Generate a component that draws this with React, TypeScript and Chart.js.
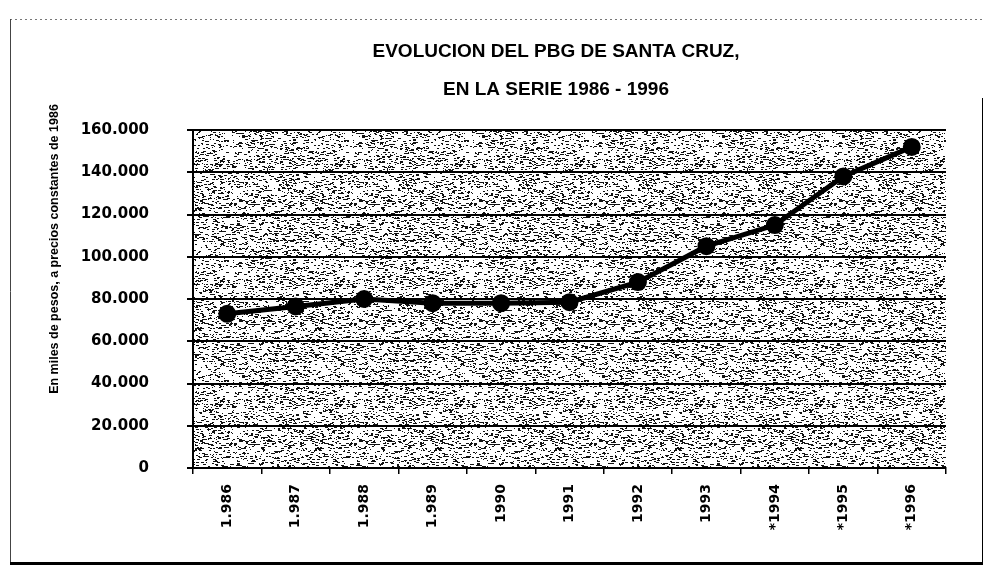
import React, { useEffect, useRef } from 'react';
import { Chart, registerables } from 'chart.js';

Chart.register(...registerables);

const years = ['1.986', '1.987', '1.988', '1.989', '1990', '1991', '1992', '1993', '*1994', '*1995', '*1996'];
const pbg = [73000, 76500, 80000, 78000, 78000, 78500, 88000, 105000, 115000, 138000, 152000];
const titleLines = ['EVOLUCION DEL PBG DE SANTA CRUZ,', 'EN LA SERIE 1986 - 1996'];
const yAxisTitle = 'En miles de pesos, a precios constantes de 1986';
const yMin = 0;
const yMax = 160000;
const yStep = 20000;

const W = 980;
const H = 557;

function fmt(v: number): string {
  if (v === 0) return '0';
  const k = Math.round(v / 1000);
  return k + '.000';
}

function makeStipple(ctx: CanvasRenderingContext2D): CanvasPattern | string {
  const size = 120;
  const c = document.createElement('canvas');
  c.width = size;
  c.height = size;
  const g = c.getContext('2d');
  if (!g) return '#ccc';
  g.fillStyle = '#fff';
  g.fillRect(0, 0, size, size);
  g.fillStyle = '#111';
  let s = 987654321;
  const next = () => {
    s = (Math.imul(s, 1664525) + 1013904223) >>> 0;
    return s / 4294967296;
  };
  for (let i = 0; i < 1800; i++) {
    const x = Math.floor(next() * size);
    const y = Math.floor(next() * size);
    const w = 1 + Math.floor(next() * 3);
    g.fillRect(x, y, w, 1);
  }
  return ctx.createPattern(c, 'repeat') || '#ccc';
}

const decorPlugin = {
  id: 'decor',
  beforeDraw(chart: any) {
    const { ctx, chartArea } = chart;
    ctx.save();
    ctx.fillStyle = '#fff';
    ctx.fillRect(0, 0, chart.width, chart.height);
    ctx.fillStyle = makeStipple(ctx);
    ctx.fillRect(chartArea.left, chartArea.top, chartArea.right - chartArea.left, chartArea.bottom - chartArea.top);
    ctx.restore();
  },
  afterDraw(chart: any) {
    const { ctx } = chart;
    ctx.save();
    // frame
    ctx.strokeStyle = '#777';
    ctx.lineWidth = 1;
    ctx.setLineDash([2, 3]);
    ctx.beginPath();
    ctx.moveTo(2, 11.5);
    ctx.lineTo(976, 11.5);
    ctx.stroke();
    ctx.setLineDash([]);
    ctx.strokeStyle = '#444';
    ctx.beginPath();
    ctx.moveTo(2.5, 11);
    ctx.lineTo(2.5, 556);
    ctx.stroke();
    ctx.strokeStyle = '#000';
    ctx.lineWidth = 3;
    ctx.beginPath();
    ctx.moveTo(975.5, 90);
    ctx.lineTo(975.5, 557);
    ctx.stroke();
    ctx.beginPath();
    ctx.moveTo(2, 555.5);
    ctx.lineTo(977, 555.5);
    ctx.stroke();
    // title
    ctx.fillStyle = '#000';
    ctx.font = 'bold 19px "Liberation Sans", Arial, sans-serif';
    ctx.textAlign = 'center';
    ctx.textBaseline = 'middle';
    ctx.fillText(titleLines[0], 548, 44);
    ctx.fillText(titleLines[1], 548, 82);
    // y axis title
    ctx.font = 'bold 12.5px "Liberation Sans", Arial, sans-serif';
    ctx.translate(47, 241);
    ctx.rotate(-Math.PI / 2);
    ctx.fillText(yAxisTitle, 0, 0);
    ctx.restore();
  },
};

export default function App() {
  const ref = useRef<HTMLCanvasElement | null>(null);
  useEffect(() => {
    if (!ref.current) return;
    const chart = new Chart(ref.current, {
      type: 'line',
      data: {
        labels: years,
        datasets: [
          {
            data: pbg,
            borderColor: '#000',
            backgroundColor: '#000',
            borderWidth: 5,
            pointRadius: 6.5,
            pointBackgroundColor: '#000',
            pointBorderColor: '#000',
            tension: 0,
            fill: false,
          },
        ],
      },
      options: {
        responsive: false,
        animation: false,
        devicePixelRatio: 1,
        layout: { padding: { left: 20, right: 42, top: 122, bottom: 17 } },
        plugins: {
          legend: { display: false },
          title: { display: false },
          tooltip: { enabled: false },
        },
        scales: {
          x: {
            offset: true,
            afterFit: (s: any) => {
              s.height = 80;
            },
            grid: {
              drawOnChartArea: false,
              drawTicks: true,
              tickLength: 6,
              color: '#000',
              lineWidth: 1.5,
              offset: true,
            },
            border: { display: true, color: '#000', width: 2 },
            ticks: {
              autoSkip: false,
              minRotation: 90,
              maxRotation: 90,
              padding: 10,
              color: '#000',
              font: { family: '"DejaVu Sans", sans-serif', weight: 'bold', size: 14 },
            },
          },
          y: {
            min: yMin,
            max: yMax,
            afterFit: (s: any) => {
              s.width = 165;
            },
            grid: {
              color: '#000',
              lineWidth: 2,
              drawTicks: true,
              tickLength: 6,
            },
            border: { display: true, color: '#000', width: 2 },
            ticks: {
              stepSize: yStep,
              padding: 38,
              color: '#000',
              font: { family: '"DejaVu Sans", sans-serif', weight: 'bold', size: 15 },
              callback: (v: any) => fmt(Number(v)),
            },
          },
        },
      },
      plugins: [decorPlugin],
    });
    return () => chart.destroy();
  }, []);
  return (
    <div style={{ width: W, height: H }}>
      <canvas ref={ref} width={W} height={H} style={{ display: 'block', width: W, height: H }} />
    </div>
  );
}
